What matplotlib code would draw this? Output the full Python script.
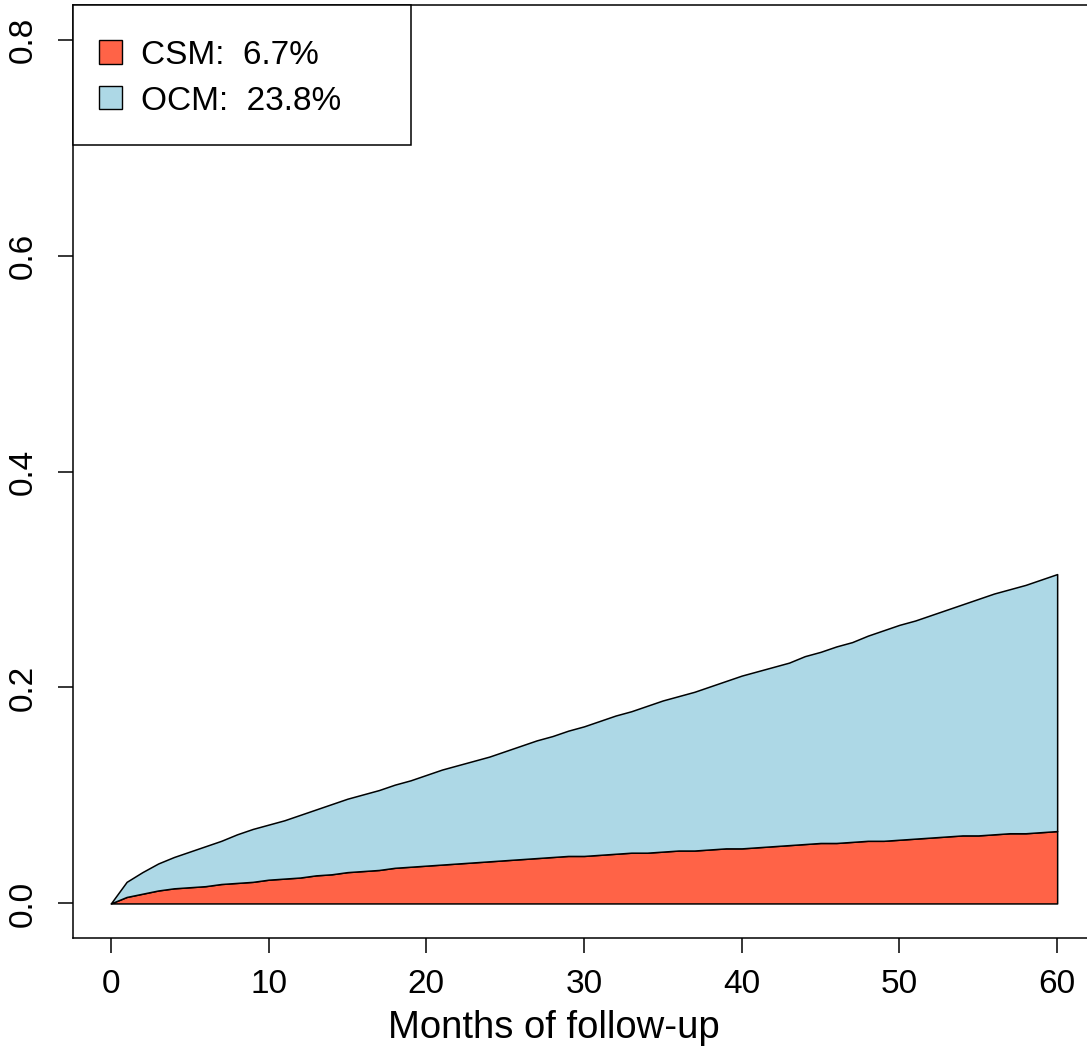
import numpy as np
import matplotlib
matplotlib.use("Agg")
import matplotlib.pyplot as plt
from matplotlib.patches import Rectangle

plt.rcParams["font.family"] = ["Liberation Sans", "DejaVu Sans"]

# cumulative incidence, one value per month
months = list(range(0, 61))
csm = [0.000, 0.006, 0.009, 0.012, 0.014, 0.015, 0.016, 0.018, 0.019, 0.020,
       0.022, 0.023, 0.024, 0.026, 0.027, 0.029, 0.030, 0.031, 0.033, 0.034,
       0.035, 0.036, 0.037, 0.038, 0.039, 0.040, 0.041, 0.042, 0.043, 0.044,
       0.044, 0.045, 0.046, 0.047, 0.047, 0.048, 0.049, 0.049, 0.050, 0.051,
       0.051, 0.052, 0.053, 0.054, 0.055, 0.056, 0.056, 0.057, 0.058, 0.058,
       0.059, 0.060, 0.061, 0.062, 0.063, 0.063, 0.064, 0.065, 0.065, 0.066,
       0.067]
# CSM + OCM (top of the stacked area)
csm_plus_ocm = [0.000, 0.020, 0.029, 0.037, 0.043, 0.048, 0.053, 0.058, 0.064, 0.069,
                0.073, 0.077, 0.082, 0.087, 0.092, 0.097, 0.101, 0.105, 0.110, 0.114,
                0.119, 0.124, 0.128, 0.132, 0.136, 0.141, 0.146, 0.151, 0.155, 0.160,
                0.164, 0.169, 0.174, 0.178, 0.183, 0.188, 0.192, 0.196, 0.201, 0.206,
                0.211, 0.215, 0.219, 0.223, 0.229, 0.233, 0.238, 0.242, 0.248, 0.253,
                0.258, 0.262, 0.267, 0.272, 0.277, 0.282, 0.287, 0.291, 0.295, 0.300,
                0.305]
legend_labels = ["CSM:  6.7%", "OCM:  23.8%"]
colors = ["tomato", "lightblue"]
xticks = [0, 10, 20, 30, 40, 50, 60]
yticks = [0.0, 0.2, 0.4, 0.6, 0.8]

W, H = 1087, 1057
fig = plt.figure(figsize=(W / 100, H / 100), dpi=100)
# plot region runs past the right edge of the image, as in the original
ax = fig.add_axes([73 / W, 1 - 938 / H, (1095 - 73) / W, (938 - 5) / H])

ax.fill_between(months, 0, csm, facecolor=colors[0], edgecolor="black", linewidth=1.1)
ax.fill_between(months, csm, csm_plus_ocm, facecolor=colors[1], edgecolor="black", linewidth=1.1)

ax.set_xlim(-2.4, 62.4)
ax.set_ylim(-0.032, 0.832)
ax.set_xticks(xticks)
ax.set_xticklabels([str(t) for t in xticks])
ax.set_yticks(yticks)
ax.set_yticklabels([f"{t:.1f}" for t in yticks])
for s in ax.spines.values():
    s.set_linewidth(1.1)
ax.tick_params(axis="both", direction="out", length=11, width=1.1, labelsize=24)
ax.tick_params(axis="x", pad=11)
ax.tick_params(axis="y", pad=14, labelrotation=90)
for lab in ax.get_yticklabels():
    lab.set_va("center")
ax.set_xlabel("Months of follow-up", fontsize=27.5)
ax.xaxis.set_label_coords((554 - 73) / (1095 - 73), (938 - 1028) / (938 - 5))
ax.xaxis.label.set_va("center")


def px(x, y):
    return x / W, 1 - y / H


# legend box drawn like R's legend()
x0, y0 = px(73, 145)
x1, y1 = px(411, 5)
fig.add_artist(Rectangle((x0, y0), x1 - x0, y1 - y0, transform=fig.transFigure,
                         facecolor="white", edgecolor="black", linewidth=1.1, zorder=5))
for i, (lab, col) in enumerate(zip(legend_labels, colors)):
    cy = 52 + 46 * i
    sx, sy = px(99, cy + 11.5)
    fig.add_artist(Rectangle((sx, sy), 23.5 / W, 23 / H, transform=fig.transFigure,
                             facecolor=col, edgecolor="black", linewidth=1.0, zorder=6))
    tx, ty = px(141, cy + 3)
    fig.text(tx, ty, lab, fontsize=24, va="center", ha="left", zorder=7)

fig.savefig("out.png", dpi=100)
